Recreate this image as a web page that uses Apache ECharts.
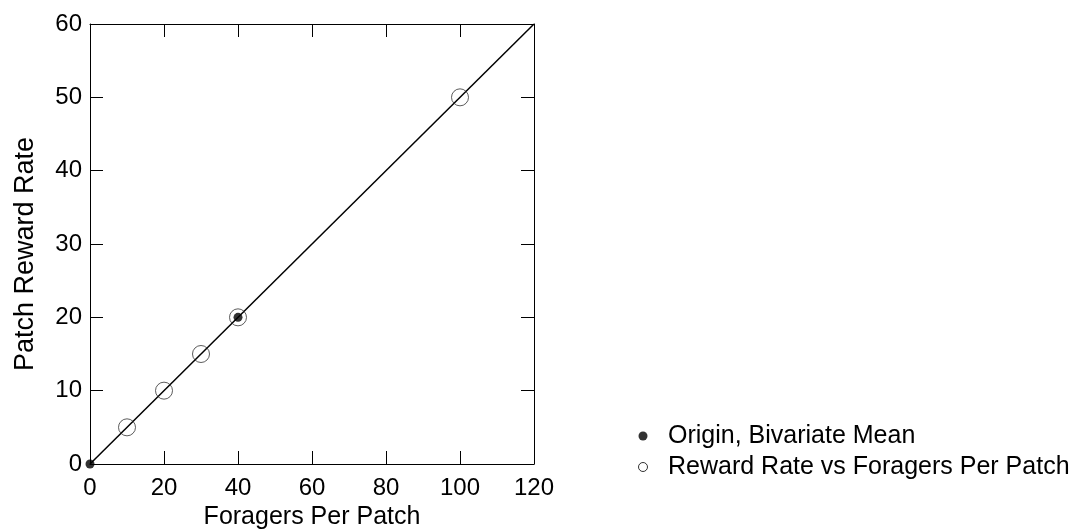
<!DOCTYPE html>
<html><head><meta charset="utf-8">
<script src="https://cdn.jsdelivr.net/npm/echarts@6/dist/echarts.min.js"></script>
<style>html,body{margin:0;padding:0;background:#fff}#c{width:1083px;height:531px}</style>
</head><body><div id="c"></div>
<script>
const xTicks = [0, 20, 40, 60, 80, 100, 120];
const yTicks = [0, 10, 20, 30, 40, 50, 60];
const originX = [0, 40];
const originY = [0, 20];
const rewardX = [10, 20, 30, 40, 100];
const rewardY = [5, 10, 15, 20, 50];
const lineX = [0, 120];
const lineY = [0, 60];
const seriesNames = ['Origin, Bivariate Mean', 'Reward Rate vs Foragers Per Patch'];

const zip = (a, b) => a.map((v, i) => [v, b[i]]);
const font = 'Liberation Sans, Arial, sans-serif';
const chart = echarts.init(document.getElementById('c'));
const common = {
  axisLine: {show: true, onZero: false, lineStyle: {color: '#000', width: 1}},
  axisTick: {show: true, inside: true, length: 13, lineStyle: {color: '#000', width: 1}},
  splitLine: {show: false}
};
const xr = {type: 'value', min: xTicks[0], max: xTicks[xTicks.length-1], interval: xTicks[1]-xTicks[0]};
const yr = {type: 'value', min: yTicks[0], max: yTicks[yTicks.length-1], interval: yTicks[1]-yTicks[0]};
chart.setOption({
  animation: false,
  grid: {left: 90, top: 24, right: 549, bottom: 67, outerBoundsMode: 'none', containLabel: false},
  xAxis: [
    Object.assign({}, common, xr, {position: 'bottom',
      name: 'Foragers Per Patch', nameLocation: 'middle', nameGap: 40,
      nameTextStyle: {fontFamily: font, fontSize: 25, color: '#000'},
      axisLabel: {fontFamily: font, fontSize: 24, color: '#000', margin: 12}}),
    Object.assign({}, common, xr, {position: 'top', axisLabel: {show: false}})
  ],
  yAxis: [
    Object.assign({}, common, yr, {position: 'left',
      name: 'Patch Reward Rate', nameLocation: 'middle', nameGap: 51, nameRotate: 90,
      nameTextStyle: {fontFamily: font, fontSize: 27, color: '#000', padding: [0, 20, 0, 0]},
      axisLabel: {fontFamily: font, fontSize: 24, color: '#000', margin: 8}}),
    Object.assign({}, common, yr, {position: 'right', axisLabel: {show: false}})
  ],
  legend: {
    orient: 'vertical', left: 638, top: 422, padding: 0, itemGap: 3, itemWidth: 40, itemHeight: 9,
    textStyle: {fontFamily: font, fontSize: 25, lineHeight: 28, color: '#000'},
    data: [
      {name: seriesNames[0], icon: 'circle', itemStyle: {color: '#000', borderColor: '#000', borderWidth: 0}},
      {name: seriesNames[1], icon: 'circle', itemStyle: {color: '#fff', borderColor: '#000', borderWidth: 1}}
    ]
  },
  series: [
    {type: 'line', data: zip(lineX, lineY), symbol: 'none', lineStyle: {color: '#000', width: 1.5}, silent: true, z: 1},
    {name: seriesNames[1], type: 'scatter', data: zip(rewardX, rewardY), symbol: 'circle', symbolSize: 17,
      itemStyle: {color: 'rgba(255,255,255,0)', borderColor: '#333', borderWidth: 1}, z: 2},
    {name: seriesNames[0], type: 'scatter', data: zip(originX, originY), symbol: 'circle', symbolSize: 9,
      itemStyle: {color: '#000'}, z: 3}
  ]
});
</script></body></html>
